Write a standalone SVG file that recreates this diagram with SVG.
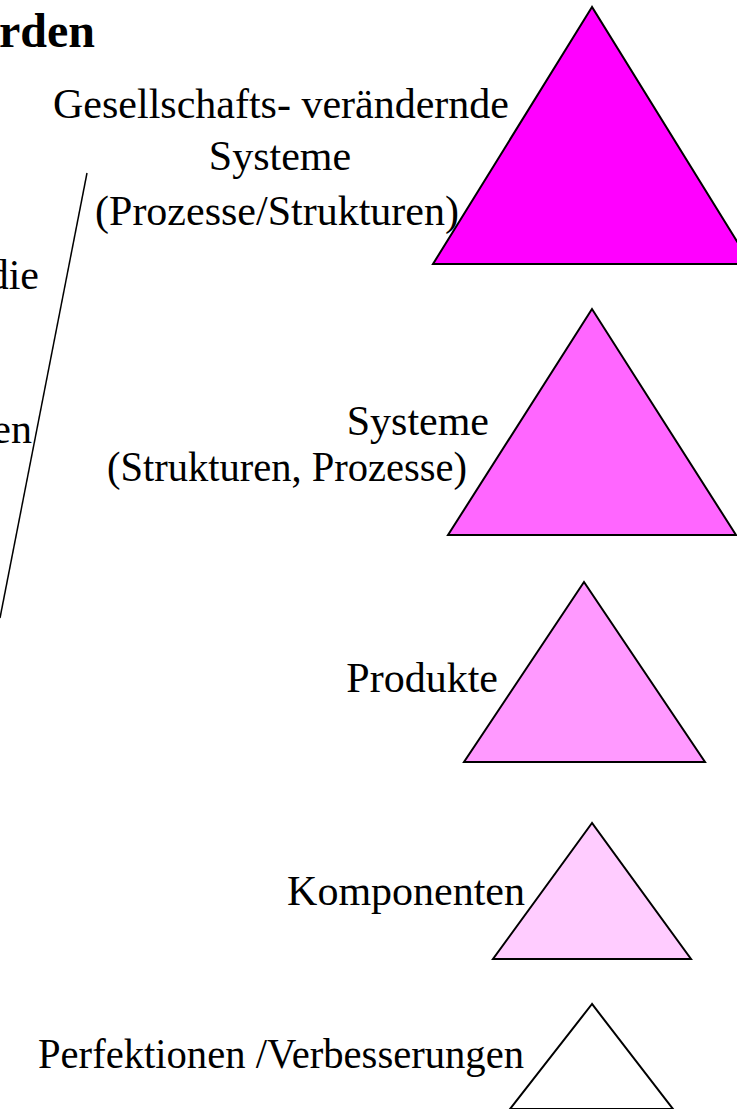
<svg xmlns="http://www.w3.org/2000/svg" width="737" height="1109" viewBox="0 0 737 1109">
<style>
text{font-family:"Liberation Serif","Times New Roman",serif;font-size:42px;fill:#000}
.b{font-weight:bold;font-size:48px}
.tri{stroke:#000;stroke-width:2;stroke-linejoin:miter}
</style>
<rect width="737" height="1109" fill="#fff"/>
<g id="title"><text class="b" x="95" y="47" text-anchor="end">rden</text></g>
<g id="left-text">
<text x="39" y="289" text-anchor="end">die</text>
<text x="32" y="443" text-anchor="end">en</text>
</g>
<g id="connectors">
<line x1="87" y1="173" x2="0" y2="618" stroke="#000" stroke-width="1.5"/>
</g>
<g id="node1">
<polygon class="tri" points="592,7 433,264 751,264" fill="#FF00FF"/>
<text x="281" y="118" text-anchor="middle">Gesellschafts- verändernde</text>
<text x="280" y="170" text-anchor="middle">Systeme</text>
<text x="277" y="225" text-anchor="middle">(Prozesse/Strukturen)</text>
</g>
<g id="node2">
<polygon class="tri" points="592,309 448,535 736,535" fill="#FF66FF"/>
<text x="489" y="435" text-anchor="end">Systeme</text>
<text x="107" y="481" textLength="360" lengthAdjust="spacingAndGlyphs">(Strukturen, Prozesse)</text>
</g>
<g id="node3">
<polygon class="tri" points="584,582 464,762 705,762" fill="#FF99FF"/>
<text x="498" y="692" text-anchor="end">Produkte</text>
</g>
<g id="node4">
<polygon class="tri" points="592,823 493,959 691,959" fill="#FFCCFF"/>
<text x="525" y="905" text-anchor="end">Komponenten</text>
</g>
<g id="node5">
<polygon class="tri" points="592,1004 510,1109 673,1109" fill="#FFFFFF"/>
<text x="38" y="1068" textLength="486" lengthAdjust="spacingAndGlyphs">Perfektionen /Verbesserungen</text>
</g>
</svg>
